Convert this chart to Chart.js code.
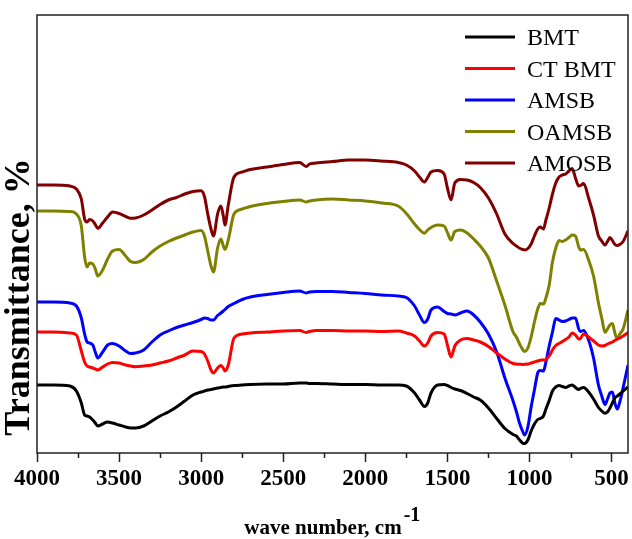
<!DOCTYPE html>
<html>
<head>
<meta charset="utf-8">
<title>FTIR spectra</title>
<script src="https://cdn.jsdelivr.net/npm/chart.js@4/dist/chart.umd.min.js"></script>
<style>
html, body { margin: 0; padding: 0; background: #fff; }
canvas { display: block; }
</style>
</head>
<body>
<canvas id="chart" width="632" height="539"></canvas>
<script>
// wave numbers, cm-1 (shared by all spectra)
var wavenumbers = [
	4000, 3900, 3800, 3760, 3730, 3710, 3695, 3680, 3660, 3645,
	3630, 3600, 3570, 3540, 3500, 3460, 3430, 3400, 3350, 3300,
	3250, 3200, 3150, 3100, 3050, 3000, 2980, 2960, 2940, 2925,
	2900, 2880, 2865, 2855, 2835, 2800, 2750, 2700, 2600, 2500,
	2400, 2360, 2340, 2300, 2200, 2100, 2000, 1900, 1800, 1750,
	1700, 1670, 1640, 1620, 1600, 1560, 1520, 1500, 1478, 1455,
	1420, 1380, 1340, 1300, 1250, 1200, 1150, 1100, 1080, 1060,
	1040, 1030, 1010, 990, 970, 950, 935, 915, 900, 880,
	860, 840, 820, 800, 780, 760, 740, 720, 700, 690,
	670, 640, 610, 580, 560, 540, 525, 510, 495, 480,
	465, 450, 430, 400
]

// transmittance (offset, arbitrary units)
var bmt = [
	68, 68, 67, 62, 50, 38, 37, 36, 33, 30,
	27, 29, 31, 30, 28, 26, 25, 25, 27, 32,
	37, 41, 46, 52, 58, 61, 62, 63, 63.5, 64,
	65, 65.5, 66, 66, 66.5, 67.5, 68, 68.5, 69, 69,
	70, 70, 69.5, 69.5, 69, 68.5, 68.5, 68, 68, 67,
	60, 53, 46.5, 50, 60, 68, 68.5, 67.5, 65.5, 64,
	62.5, 59.5, 56, 53, 45, 34.5, 24.5, 18.5, 17, 13,
	9.7, 9.5, 13, 22, 29, 33.5, 34.5, 37, 44, 52.5,
	62, 66, 67.5, 66.5, 65.5, 67, 68, 65.5, 63.5, 64.5,
	65.5, 61, 54, 45.5, 42, 39.7, 41, 45, 50, 55,
	57, 59, 62, 66
]
var ctBmt = [
	121, 121, 120, 118, 102, 91, 87, 86, 85, 84,
	83, 86, 89, 90.5, 90, 88, 87, 86.3, 87, 88,
	90, 92, 95, 98, 102, 101.5, 99, 92, 83, 80,
	85, 87.5, 85, 82, 88, 115, 119, 120, 121, 122,
	122.5, 120.5, 121.5, 122.5, 122.5, 122, 122, 121.5, 122, 120,
	117, 112, 107, 110, 117, 120.5, 119, 108, 96, 107,
	113, 114.5, 113, 111, 106.5, 100, 94, 89.5, 89, 88.7,
	88.5, 88.7, 89, 90, 91, 92, 92.7, 93, 93.5, 97,
	103, 107.5, 109.5, 111.5, 113.5, 116, 120, 118, 114, 114.5,
	119, 116, 112, 108, 107, 107.5, 109, 110, 111, 112.5,
	114, 115, 117, 120.5
]
var amsb = [
	151, 151, 150, 147, 135, 119, 111, 110, 108, 101,
	95, 101, 108, 109.5, 107, 102, 99.5, 100, 103, 111,
	118, 122, 125.5, 128, 130.5, 133.5, 135, 134.5, 133, 133,
	137.5, 140, 142, 143.5, 146.5, 149.5, 153.5, 156, 158.5, 160.5,
	162, 160, 161, 161.5, 161.5, 160.5, 159.5, 158, 157, 155.5,
	147, 138, 130.5, 134, 143, 146, 141.5, 139.5, 139, 138,
	140, 142, 138, 131, 119, 101, 75, 52, 41.5, 29.5,
	21, 18, 26, 46, 63, 80, 82.5, 82, 91, 107,
	121, 134.5, 133, 131.5, 132, 133.5, 135, 135, 124, 121.5,
	122.5, 113, 95, 68, 57, 48.5, 54, 60, 61, 50,
	44, 51, 65, 88
]
var oamsb = [
	242, 242, 241.5, 239, 227, 196, 186, 190, 189, 184,
	177, 183, 194, 202, 203.5, 197, 191.5, 190.5, 193.5, 201,
	207, 211.5, 215, 218, 221, 222.5, 217, 202, 187, 181,
	205, 214, 207, 203.5, 213, 239, 244, 246.5, 249.5, 251.5,
	253, 251, 252, 253, 254, 253, 252, 250, 247, 239.5,
	229, 223.5, 219.7, 223, 225.5, 228, 227, 220.4, 213, 221.5,
	223, 220, 214, 207, 195, 172, 148, 121, 116, 109,
	103, 101.5, 105, 116, 131, 144, 149.5, 149, 155, 168,
	191, 205, 212.5, 211.5, 213, 215.5, 218, 217, 206, 203,
	203.5, 193, 177, 150, 135, 120.5, 124, 128, 129.5, 120,
	114, 119, 124, 143
]
var amosb = [
	268, 268, 267, 264, 254, 234, 231, 233.5, 232, 228.5,
	224.7, 230, 236, 241, 239.5, 236.5, 234.7, 235, 238, 243,
	248.5, 253, 255.5, 259, 261.5, 262.3, 256.5, 239, 224, 217,
	239, 247, 237, 228, 248, 276, 281, 283.5, 286, 288.5,
	290.5, 286.5, 289, 290, 291.5, 293, 293, 292, 290.5, 288,
	282, 276, 271, 275.5, 281, 282.5, 279, 265, 253, 270,
	273.5, 273, 270.5, 265.5, 255, 239, 219, 209.5, 207, 204.7,
	203.5, 203, 204.5, 209, 217, 224, 226, 224, 233, 245,
	259, 270, 276, 278, 279, 282, 284.5, 275, 267, 267.5,
	269.5, 255, 238, 217, 212, 208, 211.5, 215.5, 212.5, 208.5,
	207.5, 208.5, 211.5, 222
]

var seriesNames = ['BMT', 'CT BMT', 'AMSB', 'OAMSB', 'AMOSB']
var seriesColors = ['#000000', '#ff0000', '#0000ff', '#808000', '#800000']
var seriesValues = [bmt, ctBmt, amsb, oamsb, amosb]

// axis ticks
var xTicks = [4000, 3500, 3000, 2500, 2000, 1500, 1000, 500]
var xMinorTicks = [3750, 3250, 2750, 2250, 1750, 1250, 750]

var serif = "'Liberation Serif', 'Times New Roman', serif"

// frame, minor ticks, titles and legend
var decorations = {
	id: 'decorations',
	afterDatasetsDraw: function (chart) {
		var ctx = chart.ctx
		var area = chart.chartArea
		var x = chart.scales.x

		ctx.save()

		// box round the plot
		ctx.strokeStyle = '#222'
		ctx.lineWidth = 1.5
		ctx.strokeRect(area.left, area.top, area.right - area.left, area.bottom - area.top)

		// minor ticks
		ctx.beginPath()
		xMinorTicks.forEach(function (v) {
			var px = Math.round(x.getPixelForValue(v)) + 0.5
			ctx.moveTo(px, area.bottom)
			ctx.lineTo(px, area.bottom + 5)
		})
		ctx.stroke()

		// y title
		ctx.fillStyle = '#000'
		ctx.font = 'bold 36px ' + serif
		ctx.textAlign = 'center'
		ctx.textBaseline = 'alphabetic'
		ctx.translate(29, 297)
		ctx.rotate(-Math.PI / 2)
		ctx.fillText('Transmittance, %', 0, 0)
		ctx.setTransform(1, 0, 0, 1, 0, 0)

		// x title with superscript
		ctx.textAlign = 'left'
		ctx.font = 'bold 21px ' + serif
		var main = 'wave number, cm'
		var w = ctx.measureText(main).width
		var startX = 323 - w / 2
		ctx.fillText(main, startX, 534)
		ctx.font = 'bold 20px ' + serif
		ctx.fillText('-1', startX + w + 2, 521)

		// legend
		ctx.lineWidth = 3
		ctx.font = '24px ' + serif
		chart.data.datasets.forEach(function (ds, i) {
			var ly = 37 + i * 31.5
			ctx.strokeStyle = ds.borderColor
			ctx.beginPath()
			ctx.moveTo(465, ly)
			ctx.lineTo(515, ly)
			ctx.stroke()
			ctx.fillStyle = '#000'
			ctx.fillText(ds.label, 527, ly + 8)
		})

		ctx.restore()
	}
}

var chart = new Chart(document.getElementById('chart').getContext('2d'), {
	type: 'line',
	data: {
		datasets: seriesNames.map(function (name, i) {
			return {
				label: name,
				data: wavenumbers.map(function (w, j) {
					return { x: w, y: seriesValues[i][j] }
				}),
				borderColor: seriesColors[i],
				borderWidth: 3,
				pointRadius: 0,
				cubicInterpolationMode: 'monotone',
				fill: false
			}
		})
	},
	options: {
		responsive: false,
		animation: false,
		devicePixelRatio: 1,
		layout: {
			padding: { left: 37, top: 15, right: 4, bottom: 0 }
		},
		plugins: {
			legend: { display: false },
			tooltip: { enabled: false }
		},
		scales: {
			x: {
				type: 'linear',
				reverse: true,
				min: 400,
				max: 4000,
				afterBuildTicks: function (scale) {
					scale.ticks = xTicks.map(function (v) { return { value: v } })
				},
				afterFit: function (scale) {
					scale.height = 86
				},
				border: { display: false },
				grid: {
					drawOnChartArea: false,
					drawTicks: true,
					tickLength: 9,
					tickColor: '#222',
					tickWidth: 1.5
				},
				ticks: {
					autoSkip: false,
					maxRotation: 0,
					padding: 3,
					color: '#000',
					font: { family: serif, size: 23, weight: 'bold' },
					callback: function (v) { return String(v) }
				}
			},
			y: {
				display: false,
				min: 0,
				max: 438
			}
		}
	},
	plugins: [decorations]
})
</script>
</body>
</html>
